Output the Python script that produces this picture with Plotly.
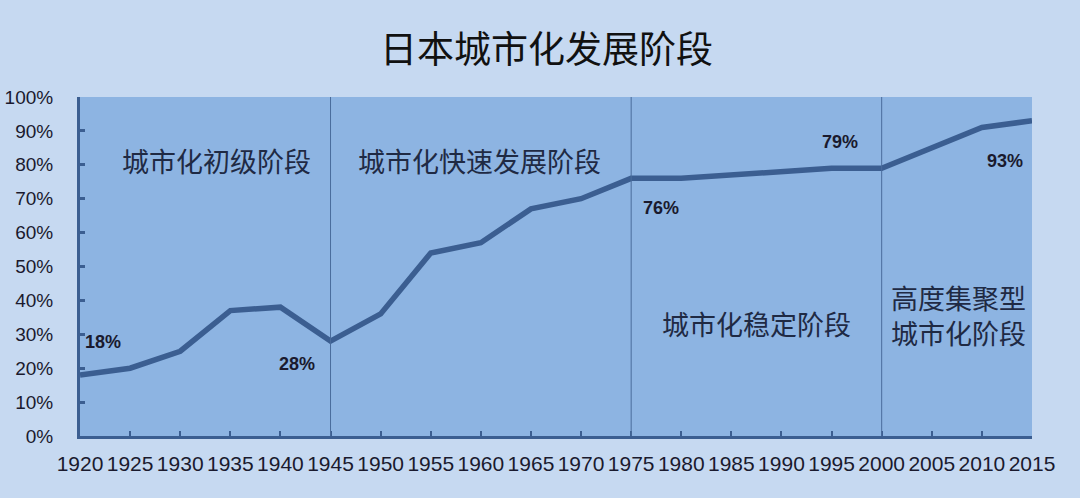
import plotly.graph_objects as go

# ---- data ----
years = [1920, 1925, 1930, 1935, 1940, 1945, 1950, 1955, 1960, 1965,
         1970, 1975, 1980, 1985, 1990, 1995, 2000, 2005, 2010, 2015]
urban_rate = [18, 20, 25, 37, 38, 28, 36, 54, 57, 67,
              70, 76, 76, 77, 78, 79, 79, 85, 91, 93]
y_ticks = [0, 10, 20, 30, 40, 50, 60, 70, 80, 90, 100]
y_tick_text = [f"{v}%" for v in y_ticks]
stage_boundaries = [1945, 1975, 2000]
stage_names = ["城市化初级阶段", "城市化快速发展阶段", "城市化稳定阶段", "高度集聚型<br>城市化阶段"]
labeled_years = [1920, 1945, 1975, 1995, 2015]
title_text = "日本城市化发展阶段"

# ---- layout / styles ----
LINE = "#3B5E91"
TXT = "#1A1A2E"
CJK = "Noto Sans CJK SC"
# per-stage label placement (x in data years, y in data %)
stage_pos = [(1933.6, 81.4), (1959.9, 81.4), (1987.5, 33.3), (2007.7, 35.8)]
# data label offsets (px)
label_shift = {1920: (23, 33), 1945: (-34, -23), 1975: (30, -30), 1995: (8, 26), 2015: (-27, -40)}

fig = go.Figure()
fig.add_trace(go.Scatter(x=years, y=urban_rate, mode="lines",
                         line=dict(color=LINE, width=5.5), hoverinfo="skip", showlegend=False))

shapes = []
for b in stage_boundaries:
    shapes.append(dict(type="line", xref="x", yref="y", x0=b, x1=b, y0=0, y1=100,
                       line=dict(color="#4A6C9C", width=1), layer="above"))

ann = []
for yr in labeled_years:
    v = urban_rate[years.index(yr)]
    dx, dy = label_shift[yr]
    ann.append(dict(x=yr, y=v, xref="x", yref="y", text=f"<b>{v}%</b>", showarrow=False,
                    xshift=dx, yshift=dy, font=dict(family="Liberation Sans", size=18, color=TXT)))
for name, (sx, sy) in zip(stage_names, stage_pos):
    ann.append(dict(x=sx, y=sy, xref="x", yref="y", text=name, showarrow=False,
                    font=dict(family=CJK, size=27, color="#1F2A44")))

fig.update_layout(
    width=1080, height=498,
    margin=dict(l=80, r=48, t=97, b=62),
    paper_bgcolor="#C6D9F1",
    plot_bgcolor="#8DB4E2",
    title=dict(text=title_text, x=0.506, xanchor="center", y=0.9, yanchor="middle",
               font=dict(family=CJK, size=37, color="#111111")),
    shapes=shapes,
    annotations=ann,
    xaxis=dict(range=[1920, 2015], tickvals=years, ticktext=[str(y) for y in years],
               automargin=False,
               showgrid=False, zeroline=False, showline=True, linecolor=LINE, linewidth=3,
               ticks="inside", ticklen=5, tickwidth=2, tickcolor=LINE,
               tickfont=dict(family="Liberation Sans", size=21, color=TXT), ticklabelstandoff=7),
    yaxis=dict(range=[0, 100], tickvals=y_ticks, ticktext=y_tick_text,
               automargin=False,
               showgrid=False, zeroline=False, showline=True, linecolor=LINE, linewidth=3,
               ticks="inside", ticklen=5, tickwidth=3, tickcolor=LINE,
               tickfont=dict(family="Liberation Sans", size=19, color=TXT), ticklabelstandoff=20),
)

fig.write_html("out.html", config={"displayModeBar": False},
               post_script="document.body.style.margin='0';document.body.style.background='#C6D9F1';")
